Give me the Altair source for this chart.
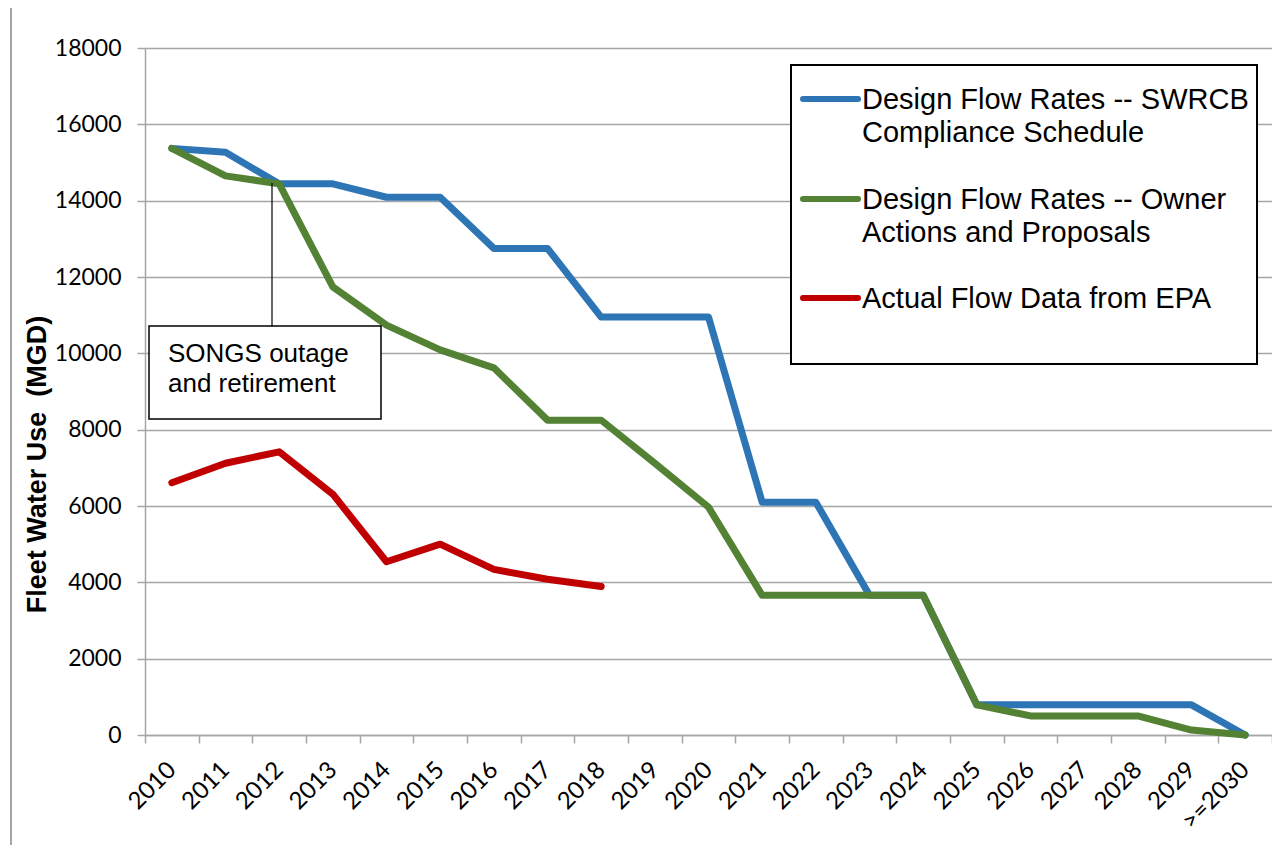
import altair as alt
import pandas as pd

years = ["2010", "2011", "2012", "2013", "2014", "2015", "2016", "2017", "2018", "2019",
         "2020", "2021", "2022", "2023", "2024", "2025", "2026", "2027", "2028", "2029", ">=2030"]
swrcb = [15370, 15270, 14440, 14440, 14090, 14090, 12750, 12750, 10950, 10950,
         10950, 6100, 6100, 3660, 3660, 790, 790, 790, 790, 790, 0]
owner = [15370, 14650, 14440, 11740, 10740, 10090, 9620, 8250, 8250, 7120,
         5970, 3660, 3660, 3660, 3660, 790, 500, 500, 500, 130, 0]
actual = [6610, 7120, 7420, 6310, 4540, 5000, 4340, 4080, 3890]

series_names = ["Design Flow Rates -- SWRCB Compliance Schedule",
                "Design Flow Rates -- Owner Actions and Proposals",
                "Actual Flow Data from EPA"]
legend_text = [["Design Flow Rates -- SWRCB", "Compliance Schedule"],
               ["Design Flow Rates -- Owner", "Actions and Proposals"],
               ["Actual Flow Data from EPA"]]
colors = ["#2e75b6", "#548235", "#c00000"]
y_ticks = [0, 2000, 4000, 6000, 8000, 10000, 12000, 14000, 16000, 18000]
annotation_text = ["SONGS outage", "and retirement"]
y_title = "Fleet Water Use\u00a0 (MGD)"

GRAY = "#a6a6a6"
TICK_FONT = "Lato"
TEXT_FONT = "Liberation Sans"

x_enc = alt.X(
    "year:O",
    sort=years,
    scale=alt.Scale(type="band", domain=years, paddingInner=0, paddingOuter=0),
    axis=alt.Axis(
        title=None, labelAngle=-45, labelAlign="right", labelBaseline="middle",
        labelPadding=23, labelFont=TICK_FONT, labelFontSize=24, labelColor="#000000",
        labelOverlap=False, tickBand="extent", tickSize=8, tickColor=GRAY, tickWidth=1.5,
        domainColor=GRAY, domainWidth=1.5, grid=False,
    ),
)
y_enc = alt.Y(
    "value:Q",
    scale=alt.Scale(domain=[0, 18000], nice=False, zero=True),
    axis=alt.Axis(
        values=y_ticks, format="d", title=y_title, titleFont=TEXT_FONT, titleFontSize=27,
        titleFontWeight="bold", titleColor="#000000", titleAngle=-90, titleAlign="center",
        titleBaseline="alphabetic", titleX=-100, titleY=416,
        labelFont=TICK_FONT, labelFontSize=23, labelColor="#000000", labelPadding=16,
        tickSize=8, tickColor=GRAY, tickWidth=1.5, domainColor=GRAY, domainWidth=1.5,
        grid=True, gridColor=GRAY, gridWidth=1.5,
    ),
)

layers = []
for name, vals, col in zip(series_names, [swrcb, owner, actual], colors):
    d = pd.DataFrame({"year": years[:len(vals)], "value": vals, "series": name})
    layers.append(
        alt.Chart(d).mark_line(strokeWidth=7, strokeCap="round", strokeJoin="round", color=col)
        .encode(x=x_enc, y=y_enc)
    )

one = pd.DataFrame({"k": [0]})

# annotation callout
layers.append(alt.Chart(one).mark_rule(color="#000000", strokeWidth=1.2).encode(
    x=alt.value(127), y=alt.value(135), y2=alt.value(278)))
layers.append(alt.Chart(one).mark_rect(fill="#ffffff", stroke="#000000", strokeWidth=1.5).encode(
    x=alt.value(4), x2=alt.value(236), y=alt.value(278), y2=alt.value(371)))
layers.append(alt.Chart(one).mark_text(
    align="left", baseline="alphabetic", font=TEXT_FONT, fontSize=26, lineHeight=30,
    color="#000000").encode(x=alt.value(23), y=alt.value(313.5), text=alt.value(annotation_text)))

# legend box
layers.append(alt.Chart(one).mark_rect(fill="#ffffff", stroke="#000000", strokeWidth=2).encode(
    x=alt.value(646), x2=alt.value(1112), y=alt.value(17), y2=alt.value(316)))
leg_y = [51, 151, 250]
for i, (lines, col) in enumerate(zip(legend_text, colors)):
    layers.append(alt.Chart(one).mark_rule(color=col, strokeWidth=6, strokeCap="round").encode(
        x=alt.value(658), x2=alt.value(713), y=alt.value(leg_y[i])))
    layers.append(alt.Chart(one).mark_text(
        align="left", baseline="alphabetic", font=TEXT_FONT, fontSize=29, lineHeight=33.4,
        color="#000000").encode(x=alt.value(717), y=alt.value(leg_y[i] + 10),
                                text=alt.value(lines)))

# chart-area border on the left
layers.append(alt.Chart(one).mark_rule(color=GRAY, strokeWidth=2).encode(
    x=alt.value(-134), y=alt.value(-48), y2=alt.value(812)))

chart = alt.layer(*layers).properties(
    width=1127, height=687,
    autosize=alt.AutoSizeParams(type="none"),
    padding={"left": 137, "top": 40, "right": 0, "bottom": 110},
).configure_view(stroke="transparent").configure(background="#ffffff")

chart.save("out.html", embed_options={"renderer": "svg", "actions": False})
